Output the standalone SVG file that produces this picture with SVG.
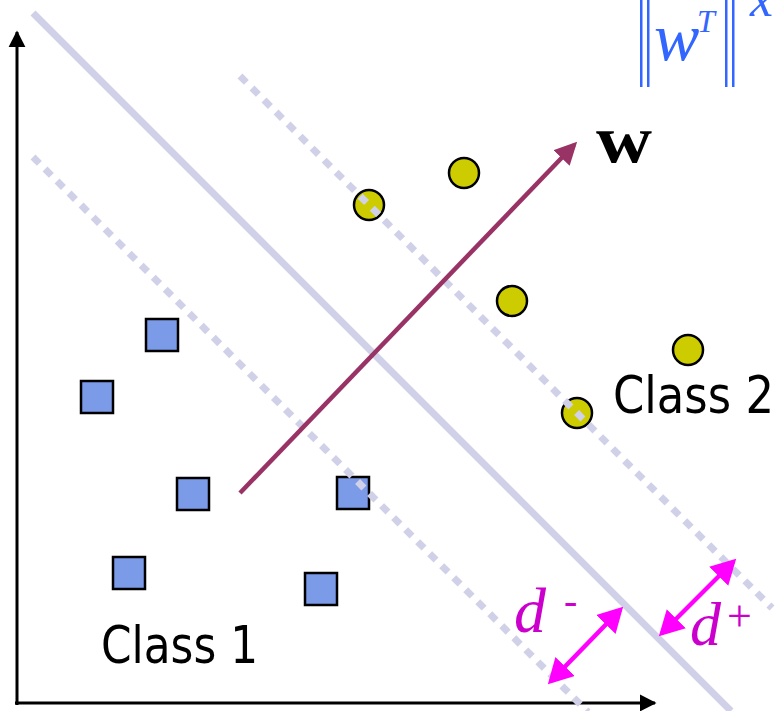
<svg xmlns="http://www.w3.org/2000/svg" width="776" height="711" viewBox="0 0 776 711">
<defs>
<marker id="axh" markerWidth="6" markerHeight="6" refX="5" refY="3" orient="auto" markerUnits="strokeWidth"><path d="M0,0.2 L5.5,3 L0,5.8 z" fill="#000"/></marker>
<marker id="wh" markerWidth="5" markerHeight="5" refX="4" refY="2.5" orient="auto" markerUnits="strokeWidth"><path d="M0,0 L5,2.5 L0,5 z" fill="#993366"/></marker>
<marker id="dh" markerWidth="6" markerHeight="6" refX="4.5" refY="3" orient="auto-start-reverse" markerUnits="strokeWidth"><path d="M0,0 L5.5,3 L0,6 z" fill="#ff00ff"/></marker>
</defs>
<style>
.sq{fill:#7b9ae8;stroke:#000;stroke-width:2.5}
.ci{fill:#cccc00;stroke:#000;stroke-width:2.5}
.sep{stroke:#d0d0e8;stroke-width:7;fill:none}
.dot{stroke:#d0d0e8;stroke-width:7;stroke-dasharray:9 8;fill:none}
.lbl{font-family:"DejaVu Sans Condensed","DejaVu Sans",sans-serif;font-size:52px;fill:#000}
.math{font-family:"Liberation Serif",serif;font-style:italic}
</style>
<g id="connectors">
<line x1="17" y1="705" x2="17" y2="32" stroke="#000" stroke-width="3" marker-end="url(#axh)"/>
<line x1="15" y1="703" x2="655" y2="703" stroke="#000" stroke-width="3" marker-end="url(#axh)"/>
<line class="sep" x1="33" y1="13" x2="731" y2="711"/>
</g>
<g id="class1">
<rect class="sq" x="146" y="319" width="32" height="32"/>
<rect class="sq" x="81" y="381" width="32" height="32"/>
<rect class="sq" x="177" y="478" width="32" height="32"/>
<rect class="sq" x="337" y="477" width="32" height="32"/>
<rect class="sq" x="113" y="557" width="32" height="32"/>
<rect class="sq" x="305" y="573" width="32" height="32"/>
</g>
<g id="class2">
<circle class="ci" cx="369" cy="205" r="15"/>
<circle class="ci" cx="464" cy="173" r="15"/>
<circle class="ci" cx="512" cy="301" r="15"/>
<circle class="ci" cx="688" cy="350" r="15"/>
<circle class="ci" cx="577" cy="413" r="15"/>
</g>
<g id="margins">
<line class="dot" x1="240" y1="76" x2="772" y2="608"/>
<line class="dot" x1="33" y1="157" x2="588" y2="712"/>
</g>
<g id="w-vector">
<line x1="240" y1="493" x2="574" y2="145" stroke="#993366" stroke-width="4.5" marker-end="url(#wh)"/>
<text x="596" y="162" font-family="Liberation Serif,serif" font-weight="bold" font-size="68" textLength="56" lengthAdjust="spacingAndGlyphs">w</text>
</g>
<g id="d-arrows">
<line x1="551" y1="681" x2="620" y2="610" stroke="#ff00ff" stroke-width="4.5" marker-start="url(#dh)" marker-end="url(#dh)"/>
<line x1="662" y1="633" x2="733" y2="562" stroke="#ff00ff" stroke-width="4.5" marker-start="url(#dh)" marker-end="url(#dh)"/>
<text class="math" x="514" y="632" font-size="64" fill="#cc00cc">d</text>
<text x="564" y="614" font-family="Liberation Serif,serif" font-size="40" fill="#cc00cc">-</text>
<text class="math" x="690" y="645" font-size="62" fill="#cc00cc">d</text>
<text x="727" y="631" font-family="Liberation Serif,serif" font-size="44" fill="#cc00cc">+</text>
</g>
<g id="labels">
<text class="lbl" x="613" y="413" textLength="161" lengthAdjust="spacingAndGlyphs">Class 2</text>
<text class="lbl" x="101" y="663" textLength="157" lengthAdjust="spacingAndGlyphs">Class 1</text>
</g>
<g id="formula" fill="#3366ff">
<rect x="640" y="0" width="2.5" height="87"/>
<rect x="647" y="0" width="2.5" height="87"/>
<rect x="725" y="0" width="2.5" height="87"/>
<rect x="732" y="0" width="2.5" height="87"/>
<text class="math" x="654" y="60" font-size="68">w</text>
<text class="math" x="697" y="32" font-size="32">T</text>
<text class="math" x="750" y="16" font-size="52">x</text>
</g>
</svg>
